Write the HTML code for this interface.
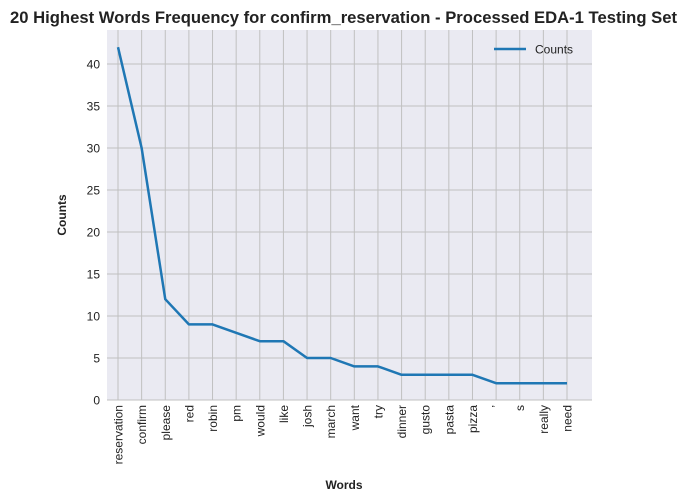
<!DOCTYPE html>
<html><head><meta charset="utf-8"><style>body{margin:0;background:#fff}svg{display:block;font-family:"Liberation Sans",Arial,sans-serif}</style></head>
<body>
<svg id="c" width="687" height="503">
<text x="10" y="23" font-size="16.5" font-weight="bold" fill="#222" textLength="667" lengthAdjust="spacingAndGlyphs">20 Highest Words Frequency for confirm_reservation - Processed EDA-1 Testing Set</text>
<rect x="107" y="30" width="485" height="370" fill="#eaeaf2"/>
<g id="grid"></g><g id="ticks"></g>
<text x="344" y="489" text-anchor="middle" font-size="12" font-weight="bold" fill="#222">Words</text>
<text transform="translate(66,215) rotate(-90)" text-anchor="middle" font-size="12" font-weight="bold" fill="#222">Counts</text>
<g>
<line x1="494" y1="49" x2="526" y2="49" stroke="#1f77b4" stroke-width="2.5"/>
<text x="535" y="53.5" font-size="12" fill="#222">Counts</text>
</g>
</svg>
<script>
const categories=["reservation","confirm","please","red","robin","pm","would","like","josh","march","want","try","dinner","gusto","pasta","pizza","’","s","really","need"];
const counts=[42,30,12,9,9,8,7,7,5,5,4,4,3,3,3,3,2,2,2,2];
const yTicks=[0,5,10,15,20,25,30,35,40];
const NS="http://www.w3.org/2000/svg";
const svg=document.getElementById('c'),grid=document.getElementById('grid'),ticks=document.getElementById('ticks');
const x0=118,dx=(567-118)/19;
const xs=i=>x0+i*dx, ys=v=>400-v*8.4;
function mk(t,a,p){const e=document.createElementNS(NS,t);for(const k in a)e.setAttribute(k,a[k]);(p||svg).appendChild(e);return e;}
yTicks.forEach(v=>{
 const l=mk('line',{x1:107,x2:592,y1:ys(v),y2:ys(v),stroke:'#c0c0c0','stroke-width':1},grid);
 
 
 const t=mk('text',{x:100,y:ys(v)+4.5,'text-anchor':'end','font-size':12,fill:'#222'},ticks);
 t.textContent=v;
 
 
});
categories.forEach((c,i)=>{
 const l=mk('line',{x1:xs(i),x2:xs(i),y1:30,y2:400,stroke:'#c0c0c0','stroke-width':1},grid);
 
 
 const t=mk('text',{transform:`translate(${xs(i)+4.5},405) rotate(-90)`,'text-anchor':'end','font-size':12,fill:'#222'},ticks);
 t.textContent=c;
 
 
});
const p=mk('polyline',{points:counts.map((v,i)=>xs(i)+','+ys(v)).join(' '),fill:'none',stroke:'#1f77b4','stroke-width':2.5,'stroke-linejoin':'round'});


</script>
</body></html>
